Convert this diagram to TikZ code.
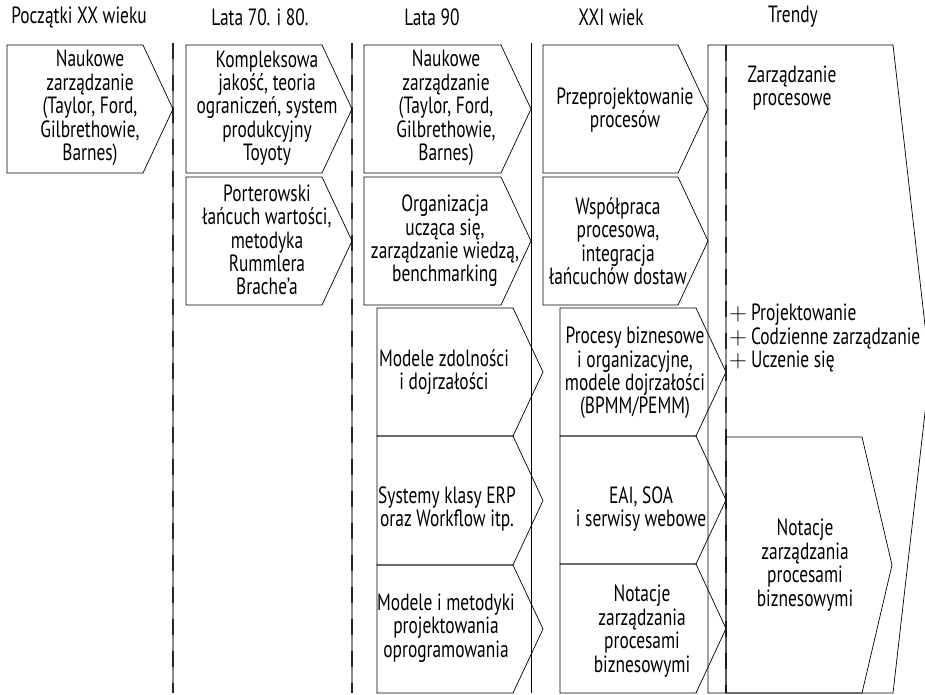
\documentclass[tikz,border=0pt]{standalone}
\usepackage{fontspec}
\setmainfont{PT Sans}[FakeStretch=0.74]
\newcommand\lbfont{\fontsize{23.5}{23.4}\selectfont}
\newcommand\plusmark{$+$\,}
\tikzset{
  box/.style={draw=black, line width=0.7pt, line join=miter},
  lbl/.style={align=center, font=\lbfont, inner sep=0pt},
  lbll/.style={align=left, font=\lbfont, inner sep=0pt, anchor=west},
  head/.style={font=\lbfont, inner sep=0pt},
  sepbase/.style={draw=black!45, line width=1.6pt},
  sepdash/.style={draw=black!85, line width=1.6pt, dash pattern=on 16pt off 16pt},
  septhin/.style={draw=black, line width=0.8pt}
}
% pentagon pointing right: left, top, bottom, tip x (notch depth 30)
\newcommand\chev[4]{\draw[box] (#1,#2) -- ({#4-30},#2) -- (#4,{(#2+#3)/2}) -- ({#4-30},#3) -- (#1,#3) -- cycle;}
\begin{document}
\begin{tikzpicture}[x=1pt,y=-1pt]
\useasboundingbox (0,0) rectangle (925,694);

% column separators
\draw[sepbase] (173,43) -- (173,693);
\draw[sepdash] (173,43) -- (173,693);
\draw[sepbase, line width=1.1pt] (352,43) -- (352,693);
\draw[sepdash, line width=1.1pt] (352,43) -- (352,693);
\draw[septhin] (531,43) -- (531,693);

% column headers
\node[head] (h1) at (79,17) {Początki XX wieku};
\node[head] (h2) at (260,17) {Lata 70. i 80.};
\node[head] (h3) at (432,17) {Lata 90};
\node[head] (h4) at (611,17) {XXI wiek};
\node[head] (h5) at (793,17) {Trendy};

% early 20th century
\chev{7}{45}{173}{173}
\node[lbl] (c1) at (90,108) {Naukowe\\zarządzanie\\(Taylor, Ford,\\Gilbrethowie,\\Barnes)};

% 70s and 80s
\chev{186}{45}{173}{352}
\chev{186}{177}{305}{352}
\node[lbl] (c2a) at (267,108) {Kompleksowa\\jakość, teoria\\ograniczeń, system\\produkcyjny\\Toyoty};
\node[lbl] (c2b) at (267,240) {Porterowski\\łańcuch wartości,\\metodyka\\Rummlera\\Brache’a};

% 90s
\chev{364}{45}{173}{531}
\chev{364}{177}{305}{531}
\chev{377}{308}{436}{543}
\chev{377}{436}{565}{543}
\chev{377}{565}{693}{543}
\node[lbl] (c3a) at (446,108) {Naukowe\\zarządzanie\\(Taylor, Ford,\\Gilbrethowie,\\Barnes)};
\node[lbl] (c3b) at (445,241) {Organizacja\\ucząca się,\\zarządzanie wiedzą,\\benchmarking};
\node[lbl] (c3c) at (444,372) {Modele zdolności\\i dojrzałości};
\node[lbl] (c3d) at (447,509) {Systemy klasy ERP\\oraz Workflow itp.};
\node[lbl] (c3e) at (446,628) {Modele i metodyki\\projektowania\\oprogramowania};

% 21st century
\chev{543}{45}{173}{708}
\chev{543}{177}{305}{708}
\chev{560}{308}{436}{726}
\chev{560}{436}{564}{726}
\chev{560}{564}{693}{726}
\node[lbl] (c4a) at (625,110) {Przeprojektowanie\\procesów};
\node[lbl] (c4b) at (618,241) {Współpraca\\procesowa,\\integracja\\łańcuchów dostaw};
\node[lbl] (c4c) at (635,373) {Procesy biznesowe\\i organizacyjne,\\modele dojrzałości\\(BPMM/PEMM)};
\node[lbl] (c4d) at (641,509) {EAI, SOA\\i serwisy webowe};
\node[lbl] (c4e) at (642,631) {Notacje\\zarządzania\\procesami\\biznesowymi};

% trends
\draw[box] (708,45) -- (893,45) -- (930,369) -- (893,693) -- (708,693) -- cycle;
\draw[sepbase] (726,45) -- (726,693);
\draw[sepdash] (726,45) -- (726,693);
\chev{726}{437}{693}{892}
\node[lbl] (t1) at (792,88) {Zarządzanie\\procesowe};
\node[lbll] (t2) at (729,338) {\plusmark Projektowanie\\\plusmark Codzienne zarządzanie\\\plusmark Uczenie się};
\node[lbl] (t3) at (805,565) {Notacje\\zarządzania\\procesami\\biznesowymi};
\end{tikzpicture}
\end{document}
